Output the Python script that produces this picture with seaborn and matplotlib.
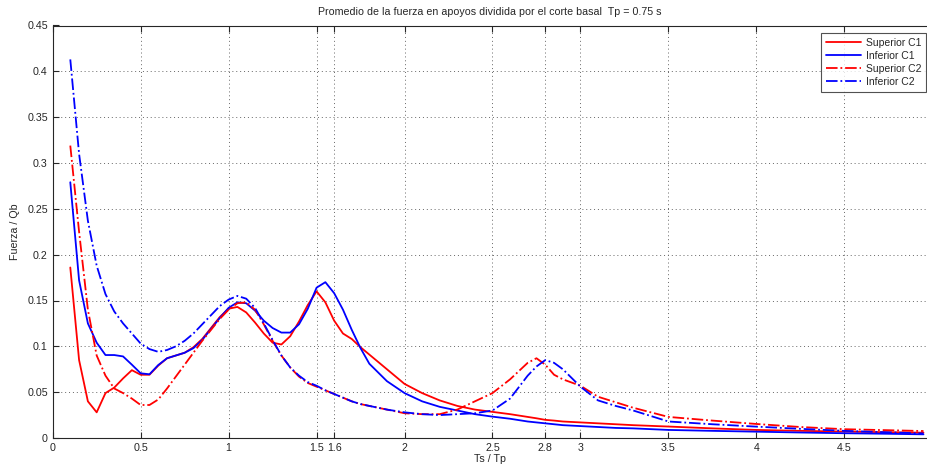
import numpy as np
import pandas as pd
import matplotlib
matplotlib.use("Agg")
import matplotlib.pyplot as plt
import seaborn as sns

# ---- data ----
ts_tp = [0.1, 0.15, 0.2, 0.25, 0.3, 0.35, 0.4, 0.45, 0.5, 0.55, 0.6, 0.65, 0.7, 0.75,
         0.8, 0.85, 0.9, 0.95, 1.0, 1.05, 1.1, 1.15, 1.2, 1.25, 1.3, 1.35, 1.4, 1.45,
         1.5, 1.55, 1.6, 1.65, 1.7, 1.75, 1.8, 1.9, 2.0, 2.1, 2.2, 2.3, 2.4, 2.5, 2.6,
         2.7, 2.75, 2.8, 2.85, 2.9, 3.0, 3.1, 3.2, 3.3, 3.5, 3.75, 4.0, 4.25, 4.5, 4.75, 4.95]

superior_c1 = [0.186, 0.085, 0.040, 0.028, 0.049, 0.055, 0.065, 0.074, 0.069, 0.069, 0.079,
               0.087, 0.090, 0.093, 0.099, 0.108, 0.120, 0.132, 0.141, 0.143, 0.137, 0.126,
               0.114, 0.104, 0.102, 0.111, 0.127, 0.145, 0.160, 0.148, 0.128, 0.114, 0.108,
               0.099, 0.091, 0.075, 0.059, 0.049, 0.041, 0.035, 0.031, 0.0285, 0.026, 0.023,
               0.0215, 0.0198, 0.019, 0.018, 0.017, 0.016, 0.015, 0.014, 0.0125, 0.0105,
               0.0088, 0.0078, 0.007, 0.0063, 0.0058]

inferior_c1 = [0.279, 0.172, 0.125, 0.104, 0.0905, 0.0905, 0.089, 0.080, 0.0706, 0.0695,
               0.0796, 0.087, 0.090, 0.093, 0.098, 0.107, 0.119, 0.131, 0.142, 0.148, 0.147,
               0.139, 0.128, 0.120, 0.115, 0.115, 0.124, 0.141, 0.164, 0.170, 0.158, 0.140,
               0.118, 0.098, 0.081, 0.062, 0.049, 0.040, 0.034, 0.030, 0.026, 0.0233, 0.021,
               0.018, 0.017, 0.016, 0.015, 0.014, 0.013, 0.012, 0.011, 0.0105, 0.0088, 0.0078,
               0.0069, 0.006, 0.0052, 0.0046, 0.004]

superior_c2 = [0.319, 0.225, 0.140, 0.090, 0.068, 0.054, 0.049, 0.043, 0.036, 0.036, 0.042,
               0.054, 0.067, 0.080, 0.093, 0.106, 0.118, 0.130, 0.140, 0.147, 0.148, 0.140,
               0.124, 0.106, 0.090, 0.077, 0.067, 0.060, 0.056, 0.052, 0.048, 0.044, 0.040,
               0.037, 0.035, 0.031, 0.027, 0.026, 0.026, 0.031, 0.040, 0.049, 0.064, 0.082,
               0.087, 0.080, 0.069, 0.064, 0.057, 0.045, 0.039, 0.033, 0.023, 0.019, 0.0153,
               0.012, 0.0096, 0.0085, 0.0076]

inferior_c2 = [0.413, 0.310, 0.237, 0.188, 0.157, 0.138, 0.125, 0.114, 0.103, 0.097, 0.094,
               0.096, 0.100, 0.106, 0.114, 0.124, 0.134, 0.144, 0.151, 0.155, 0.152, 0.142,
               0.125, 0.107, 0.090, 0.077, 0.068, 0.061, 0.057, 0.052, 0.048, 0.044, 0.040,
               0.037, 0.035, 0.031, 0.028, 0.026, 0.025, 0.026, 0.027, 0.030, 0.043, 0.068,
               0.078, 0.085, 0.082, 0.075, 0.056, 0.041, 0.035, 0.030, 0.018, 0.015, 0.0124,
               0.010, 0.0078, 0.0062, 0.005]

series_names = ["Superior C1", "Inferior C1", "Superior C2", "Inferior C2"]
x_ticks = [0, 0.5, 1, 1.5, 1.6, 2, 2.5, 2.8, 3, 3.5, 4, 4.5]
x_tick_labels = ["0", "0.5", "1", "1.5", "1.6", "2", "2.5", "2.8", "3", "3.5", "4", "4.5"]
y_ticks = [0, 0.05, 0.1, 0.15, 0.2, 0.25, 0.3, 0.35, 0.4, 0.45]
y_tick_labels = ["0", "0.05", "0.1", "0.15", "0.2", "0.25", "0.3", "0.35", "0.4", "0.45"]

df = pd.DataFrame({
    "Ts/Tp": ts_tp * 4,
    "F": superior_c1 + inferior_c1 + superior_c2 + inferior_c2,
    "serie": sum([[n] * len(ts_tp) for n in series_names], []),
})

# ---- style ----
sns.set_style("white")
plt.rcParams["font.family"] = ["Liberation Sans", "DejaVu Sans"]
FS = 7.7

fig = plt.figure(figsize=(9.27, 4.68), dpi=100)
left, bottom = 52.7 / 927, 30 / 468
ax = fig.add_axes([left, bottom, 1 - left, 412.5 / 468])

colors = {"Superior C1": "#ff0000", "Inferior C1": "#0000ff",
          "Superior C2": "#ff0000", "Inferior C2": "#0000ff"}
styles = {"Superior C1": "-", "Inferior C1": "-", "Superior C2": "-.", "Inferior C2": "-."}

for name in series_names:
    sub = df[df["serie"] == name]
    sns.lineplot(data=sub, x="Ts/Tp", y="F", ax=ax, color=colors[name],
                 linestyle=styles[name], linewidth=1.3, label=name, sort=False)

ax.set_xlim(0, 4.97)
ax.set_ylim(0, 0.45)
ax.set_xticks(x_ticks)
ax.set_xticklabels(x_tick_labels, fontsize=FS)
ax.set_yticks(y_ticks)
ax.set_yticklabels(y_tick_labels, fontsize=FS)
ax.tick_params(direction="in", length=4, width=0.8, color="#262626",
               top=True, bottom=True, left=True, right=False, pad=3.5, labelcolor="#262626")
ax.grid(True, linestyle=(0, (1, 3)), color="#666666", linewidth=0.7)
for side in ["left", "bottom", "top"]:
    ax.spines[side].set_color("#262626")
    ax.spines[side].set_linewidth(0.8)
ax.spines["right"].set_visible(False)

ax.set_xlabel("Ts / Tp", fontsize=FS, labelpad=1)
ax.set_ylabel("Fuerza / Qb", fontsize=FS, labelpad=5)
ax.text(0.5, 1 + 13.5 / 412.5, "Promedio de la fuerza en apoyos dividida por el corte basal  Tp = 0.75 s",
        transform=ax.transAxes, ha="center", va="center", fontsize=FS)

leg = ax.legend(loc="upper right", bbox_to_anchor=(0.9985, 1 - 7.5 / 412.5), borderaxespad=0,
                fontsize=7.5, frameon=True, fancybox=False, handlelength=3.4,
                labelspacing=0.3, borderpad=0.45, handletextpad=0.4)
leg.get_frame().set_edgecolor("#262626")
leg.get_frame().set_linewidth(0.8)

fig.savefig("out.png", dpi=100)
